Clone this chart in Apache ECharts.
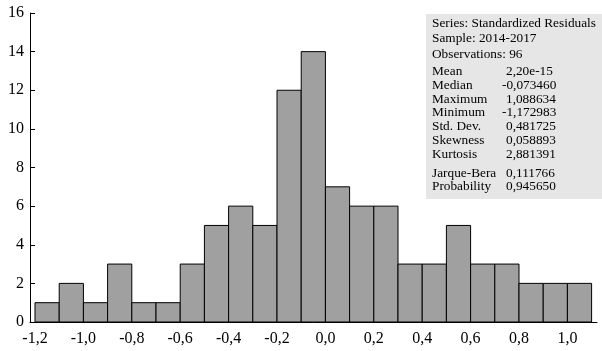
<!DOCTYPE html>
<html>
<head>
<meta charset="utf-8">
<script src="https://cdn.jsdelivr.net/npm/echarts@6/dist/echarts.min.js"></script>
<style>
    html, body {margin: 0; padding: 0; background: #fff;}
    #chart {width: 602px; height: 351px;}
</style>
</head>
<body>
<div id="chart"></div>
<script>
// 直方图数据：每个区间的起点和频数
var fBinWidth = 0.1;
var aBinStart = [-1.2, -1.1, -1.0, -0.9, -0.8, -0.7, -0.6, -0.5, -0.4, -0.3, -0.2, -0.1,
    0.0, 0.1, 0.2, 0.3, 0.4, 0.5, 0.6, 0.7, 0.8, 0.9, 1.0];
var aCount = [1, 2, 1, 3, 1, 1, 3, 5, 6, 5, 12, 14, 7, 6, 6, 3, 3, 5, 3, 3, 2, 2, 2];

// x轴刻度标签
var aXTicks = [-1.2, -1.0, -0.8, -0.6, -0.4, -0.2, 0.0, 0.2, 0.4, 0.6, 0.8, 1.0];

// 右上角统计框
var aHeader = ['Series: Standardized Residuals', 'Sample: 2014-2017', 'Observations: 96'];
var aStatName = ['Mean', 'Median', 'Maximum', 'Minimum', 'Std. Dev.', 'Skewness', 'Kurtosis'];
var aStatValue = ['2,20e-15', '-0,073460', '1,088634', '-1,172983', '0,481725', '0,058893', '2,881391'];
var aTestName = ['Jarque-Bera', 'Probability'];
var aTestValue = ['0,111766', '0,945650'];

var sFont = '"Liberation Serif", "DejaVu Serif", serif';

function FormatTick(fValue) {
    // 小数点用逗号
    return fValue.toFixed(1).replace('.', ',');
}

function GetBarData() {
    var aData = new Array();
    for (var i = 0; i < aBinStart.length; i++) {
        aData.push([aBinStart[i], aBinStart[i] + fBinWidth, aCount[i]]);
    }
    return aData
}

function RenderBar(params, api) {
    var aTop = api.coord([api.value(0), api.value(2)]);
    var aBottom = api.coord([api.value(1), 0]);
    return {
        type: 'rect',
        shape: {
            x: aTop[0],
            y: aTop[1],
            width: aBottom[0] - aTop[0],
            height: aBottom[1] - aTop[1]
        },
        style: {
            fill: '#a0a0a0',
            stroke: '#000',
            lineWidth: 1
        }
    }
}

function TextItem(sText, iX, iY) {
    return {
        type: 'text',
        left: iX,
        top: iY,
        style: {
            text: sText,
            fill: '#000',
            font: '13.3px ' + sFont
        },
        z: 10
    }
}

function GetGraphic() {
    var aGraphic = [{
        type: 'rect',
        shape: {x: 426, y: 14, width: 176, height: 185},
        style: {fill: '#e6e6e6'},
        z: 5
    }];
    var iLeft = 432;
    var iValueLeft = 506;
    var i;
    for (i = 0; i < aHeader.length; i++) {
        aGraphic.push(TextItem(aHeader[i], iLeft, 17 + i * 15.5));
    }
    for (i = 0; i < aStatName.length; i++) {
        var iY = 65 + i * 13.8;
        aGraphic.push(TextItem(aStatName[i], iLeft, iY));
        // 负号向左悬挂
        var iX = aStatValue[i].charAt(0) == '-' ? iValueLeft - 4 : iValueLeft;
        aGraphic.push(TextItem(aStatValue[i], iX, iY));
    }
    for (i = 0; i < aTestName.length; i++) {
        var iY2 = 167.5 + i * 13;
        aGraphic.push(TextItem(aTestName[i], iLeft, iY2));
        aGraphic.push(TextItem(aTestValue[i], iValueLeft, iY2));
    }
    return aGraphic
}

function GetOption() {
    var jOption = {
        animation: false,
        backgroundColor: '#fff',
        grid: {left: 30, right: 5, top: 13, bottom: 29},
        xAxis: {
            type: 'value',
            min: -1.2207,
            max: 1.1223,
            axisLine: {show: true, onZero: false, lineStyle: {color: '#000', width: 1}},
            axisTick: {show: false},
            splitLine: {show: false},
            axisLabel: {
                customValues: aXTicks,
                formatter: FormatTick,
                color: '#000',
                fontFamily: sFont,
                fontSize: 16,
                margin: 9
            }
        },
        yAxis: {
            type: 'value',
            min: 0,
            max: 16,
            interval: 2,
            axisLine: {show: true, onZero: false, lineStyle: {color: '#000', width: 1}},
            axisTick: {show: true, inside: true, length: 5, lineStyle: {color: '#000'}},
            splitLine: {show: false},
            axisLabel: {
                color: '#000',
                fontFamily: sFont,
                fontSize: 16,
                margin: 6
            }
        },
        series: [{
            type: 'custom',
            renderItem: RenderBar,
            encode: {x: [0, 1], y: 2},
            data: GetBarData()
        }],
        graphic: GetGraphic()
    };
    return jOption
}

var myChart = echarts.init(document.getElementById('chart'));
myChart.setOption(GetOption());
</script>
</body>
</html>
